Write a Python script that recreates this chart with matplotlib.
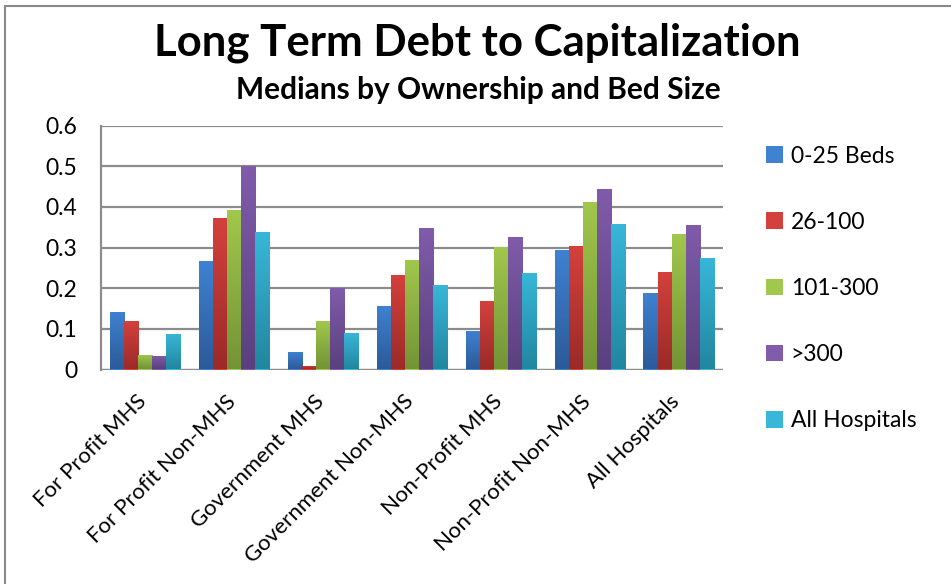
import matplotlib
matplotlib.use("Agg")
import matplotlib.pyplot as plt
import matplotlib.colors as mcolors
import matplotlib.transforms as mtrans
from matplotlib.patches import Rectangle
import numpy as np

plt.rcParams['font.family'] = ['Lato', 'DejaVu Sans']

categories = ["For Profit MHS", "For Profit Non-MHS", "Government MHS",
              "Government Non-MHS", "Non-Profit MHS", "Non-Profit Non-MHS",
              "All Hospitals"]
series = ["0-25 Beds", "26-100", "101-300", ">300", "All Hospitals"]

beds_0_25 = [0.141, 0.267, 0.043, 0.156, 0.094, 0.294, 0.188]
beds_26_100 = [0.119, 0.373, 0.008, 0.232, 0.168, 0.304, 0.240]
beds_101_300 = [0.035, 0.392, 0.119, 0.269, 0.301, 0.412, 0.333]
beds_300_plus = [0.033, 0.501, 0.200, 0.348, 0.326, 0.444, 0.355]
all_hospitals = [0.087, 0.338, 0.089, 0.208, 0.237, 0.358, 0.274]
values = [beds_0_25, beds_26_100, beds_101_300, beds_300_plus, all_hospitals]

# (top, bottom) colours for the vertical gradient on each series
grad = [("#3f82d2", "#2c5a98"),
        ("#d4413d", "#9b2a28"),
        ("#a1c84c", "#739336"),
        ("#805cab", "#5a407e"),
        ("#38b7d9", "#22869f")]

fig = plt.figure(figsize=(9.51, 5.84), dpi=100)
W, H = 951, 584
ax = fig.add_axes([101 / W, 1 - 369.5 / H, 622 / W, 243.8 / H])

# outer chart frame (cut off on the right and bottom)
fig.patches.append(Rectangle((5 / W, -0.05), 1.1, 1 - 6 / H + 0.05,
                             transform=fig.transFigure, fill=False,
                             ec="#8a8a8a", lw=1.5))

x = np.arange(len(categories))
bw = 0.158
offsets = (np.arange(len(series)) - 2) * bw

ramp = np.linspace(1, 0, 256).reshape(-1, 1)
for i, (name, vals) in enumerate(zip(series, values)):
    cmap = mcolors.LinearSegmentedColormap.from_list(name, [grad[i][1], grad[i][0]])
    bars = ax.bar(x + offsets[i], vals, bw, color=grad[i][0], label=name,
                  zorder=3, lw=0)
    for b in bars:
        bx, by = b.get_x(), b.get_y()
        bh = b.get_height()
        # soft shadow to the right of the bar
        ax.add_patch(Rectangle((bx + 0.01, by), b.get_width(), bh,
                               fc="#000000", alpha=0.08, lw=0, zorder=2.5))
        img = ax.imshow(ramp, cmap=cmap, aspect="auto", zorder=3.5,
                        extent=(bx, bx + b.get_width(), by, by + bh))
        img.set_clip_path(b)

ax.set_xlim(-0.5, len(categories) - 0.5)
ax.set_ylim(0, 0.6)
ax.set_yticks(np.arange(0, 0.61, 0.1))
ax.set_yticklabels(["0", "0.1", "0.2", "0.3", "0.4", "0.5", "0.6"])
ax.yaxis.grid(True, color="#8c8c8c", lw=1.6, zorder=0)
ax.set_axisbelow(True)
for s in ["top", "right", "bottom"]:
    ax.spines[s].set_visible(False)
ax.spines["left"].set_color("#8c8c8c")
ax.spines["left"].set_linewidth(1.6)
ax.axhline(0, color="#8c8c8c", lw=1.6, zorder=1)
ax.tick_params(axis="y", length=0, pad=17, labelsize=16.5)
ax.tick_params(axis="x", length=0, pad=2, labelsize=16)

ax.set_xticks(x)
ax.set_xticklabels(categories, rotation=45, ha="right", rotation_mode="anchor")
shift = mtrans.ScaledTranslation(-9 / 100, -19 / 100, fig.dpi_scale_trans)
for lab in ax.get_xticklabels():
    lab.set_transform(lab.get_transform() + shift)

fig.text(477 / W, 1 - 43 / H, "Long Term Debt to Capitalization",
         ha="center", va="center", fontsize=31.5, fontweight="bold")
fig.text(478 / W, 1 - 90 / H, "Medians by Ownership and Bed Size",
         ha="center", va="center", fontsize=21.5, fontweight="bold")

leg = fig.legend(loc="upper left", bbox_to_anchor=(745 / W, 1 - 125 / H),
                 frameon=False, fontsize=16.5, handlelength=0.75,
                 handleheight=0.75, handletextpad=0.35, labelspacing=1.97)

fig.savefig("out.png", dpi=100)
